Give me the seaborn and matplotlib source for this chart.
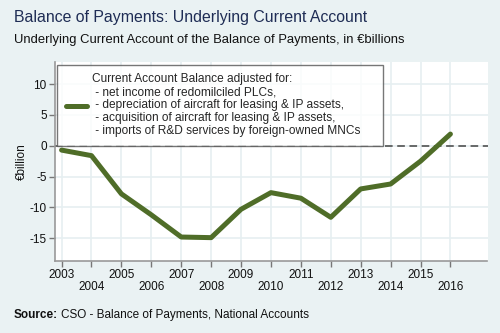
import matplotlib
matplotlib.use("Agg")
import matplotlib.pyplot as plt
import seaborn as sns
import pandas as pd

years = [2003, 2004, 2005, 2006, 2007, 2008, 2009, 2010, 2011, 2012, 2013, 2014, 2015, 2016]
balance = [-0.7, -1.6, -7.8, -11.2, -14.8, -14.9, -10.3, -7.6, -8.5, -11.6, -7.0, -6.2, -2.5, 1.9]
y_ticks = [-15, -10, -5, 0, 5, 10]

legend_label = ("Current Account Balance adjusted for:\n"
                " - net income of redomilciled PLCs,\n"
                " - depreciation of aircraft for leasing & IP assets,\n"
                " - acquisition of aircraft for leasing & IP assets,\n"
                " - imports of R&D services by foreign-owned MNCs    ")

sns.set_theme(style="white")
plt.rcParams["font.family"] = ["Liberation Sans", "DejaVu Sans"]

bg = "#eaf2f3"
grid_c = "#e6eff1"
line_c = "#4f6d28"

df = pd.DataFrame({"year": years, "balance": balance})

fig = plt.figure(figsize=(5, 3.33), dpi=100, facecolor=bg)
ax = fig.add_axes([0.11, 0.216, 0.865, 0.598])
ax.set_facecolor("white")

ax.set_xticks(years)
ax.set_yticks(y_ticks)
ax.grid(True, color=grid_c, linewidth=1.2)
ax.set_axisbelow(True)

ax.axhline(0, color="#444444", linewidth=1.1, linestyle=(0, (5, 3)), zorder=2)
sns.lineplot(data=df, x="year", y="balance", ax=ax, color=line_c,
             linewidth=3.6, label=legend_label, zorder=3)

ax.set_xlim(2002.78, 2017.24)
ax.set_ylim(-18.7, 13.6)

labels = [str(y) if i % 2 == 0 else "\n" + str(y) for i, y in enumerate(years)]
ax.set_xticklabels(labels, fontsize=8.5, color="#111111", linespacing=0.95)
ax.set_yticklabels([str(v) for v in y_ticks], fontsize=8.5, color="#111111")
ax.tick_params(axis="both", length=4, width=1, color="#777777", pad=2,
               bottom=True, left=True)

for s in ["top", "right"]:
    ax.spines[s].set_visible(False)
for s in ["left", "bottom"]:
    ax.spines[s].set_color("#999999")
    ax.spines[s].set_linewidth(1.2)

ax.set_xlabel("")
ax.set_ylabel("€billion", fontsize=8.5, color="#111111", labelpad=1)

leg = ax.legend(loc="upper left", bbox_to_anchor=(0.005, 0.987), frameon=True,
                fancybox=False, fontsize=8.6, handlelength=1.75,
                handletextpad=0.45, borderpad=0.75, borderaxespad=0.0)
leg.get_frame().set_edgecolor("#555555")
leg.get_frame().set_linewidth(1.0)
for t in leg.get_texts():
    t.set_multialignment("left")
    t.set_linespacing(1.1)

fig.text(0.028, 0.935, "Balance of Payments: Underlying Current Account",
         fontsize=11.4, color="#1f2d55")
fig.text(0.028, 0.872, "Underlying Current Account of the Balance of Payments, in €billions",
         fontsize=9.4, color="#111111")

src = fig.text(0.028, 0.045, "Source:", fontsize=8.5, fontweight="bold", color="#111111")
fig.canvas.draw()
bb = src.get_window_extent(renderer=fig.canvas.get_renderer())
x1 = bb.x1 / fig.bbox.width
fig.text(x1 + 0.006, 0.045, "CSO - Balance of Payments, National Accounts",
         fontsize=8.5, color="#111111")

fig.savefig("out.png", dpi=100, facecolor=bg)
